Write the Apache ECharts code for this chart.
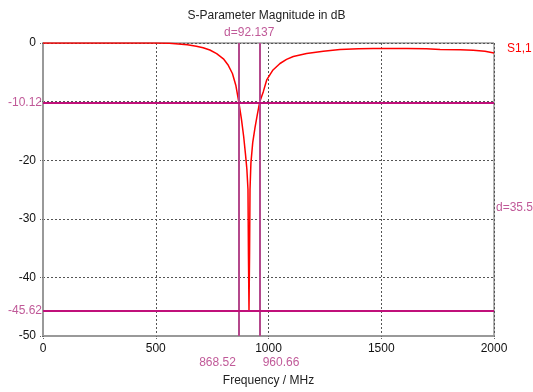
<!DOCTYPE html>
<html>
<head>
<meta charset="utf-8">
<script src="https://cdn.jsdelivr.net/npm/echarts@6/dist/echarts.min.js"></script>
<style>html,body{margin:0;padding:0;background:#fff}#c{width:533px;height:392px}</style>
</head>
<body>
<div id="c"></div>
<script>
var titleText = 'S-Parameter Magnitude in dB';
var xAxisName = 'Frequency / MHz';
var seriesName = 'S1,1';
var xTicks = [0, 500, 1000, 1500, 2000];
var yTicks = [0, -10, -20, -30, -40, -50];
var freq = [0, 100, 200, 300, 400, 500, 560, 600, 640, 680, 710, 740, 770, 800, 820, 840, 855, 868.52, 880, 890, 898, 904, 909, 911, 913.5, 916, 918, 922, 930, 940, 950, 960.66, 977, 992, 1020, 1051, 1080, 1110, 1169, 1243, 1317, 1400, 1465, 1550, 1613, 1700, 1761, 1850, 1908, 1960, 2000];
var s11 = [0, 0, 0, 0, 0, -0.02, -0.06, -0.15, -0.3, -0.55, -0.8, -1.2, -1.8, -2.7, -3.7, -5.2, -7.2, -10.12, -13, -16, -19, -21.5, -25, -36, -45.62, -36, -25, -20.5, -17, -14.5, -12.3, -10.12, -8.3, -6.3, -4.6, -3.5, -2.8, -2.3, -1.8, -1.4, -1.1, -1.0, -0.95, -0.93, -0.95, -1.0, -1.1, -1.15, -1.25, -1.4, -1.7];
var markerFreqs = [868.523, 960.66];
var markerLevels = [-10.12, -45.62];

var FONT = 'Liberation Sans';
var vColor = '#b4488c';
var hColor = '#c0107a';
var lblColor = '#b0307e';

var curve = freq.map(function (f, i) { return [f, s11[i]]; });
var xMin = xTicks[0], xMax = xTicks[xTicks.length - 1];
var yMin = yTicks[yTicks.length - 1], yMax = yTicks[0];

var dF = (markerFreqs[1] - markerFreqs[0]).toFixed(3);
var dL = Math.abs(markerLevels[1] - markerLevels[0]).toFixed(1);

var chart = echarts.init(document.getElementById('c'), null, {renderer: 'canvas'});
chart.setOption({
  animation: false,
  backgroundColor: '#fff',
  title: {
    text: titleText, left: 'center', top: 5,
    textStyle: {fontFamily: FONT, fontSize: 12, fontWeight: 'normal', color: '#222'}
  },
  grid: {left: 43, right: 39, top: 43, bottom: 54, show: true, borderColor: '#666', borderWidth: 1, backgroundColor: 'transparent'},
  xAxis: {
    type: 'value', min: xMin, max: xMax, interval: 500,
    name: xAxisName, nameLocation: 'middle', nameGap: 39,
    nameTextStyle: {fontFamily: FONT, fontSize: 12, color: '#222'},
    axisLine: {show: true, onZero: false, lineStyle: {color: '#999', width: 2}},
    axisTick: {show: true, length: 4, lineStyle: {color: '#666', type: 'dotted'}},
    axisLabel: {fontFamily: FONT, fontSize: 12, color: '#111', margin: 7,
      formatter: function (v) { return String(v); }},
    splitLine: {show: true, lineStyle: {color: '#555', type: [2, 2], width: 1}}
  },
  yAxis: {
    type: 'value', min: yMin, max: yMax, interval: 10,
    axisLine: {show: true, onZero: false, lineStyle: {color: '#999', width: 2}},
    axisTick: {show: true, length: 4, lineStyle: {color: '#666', type: 'dotted'}},
    axisLabel: {fontFamily: FONT, fontSize: 12, color: '#111', margin: 7,
      formatter: function (v) { return v === -10 ? '' : String(v); }},
    splitLine: {show: true, lineStyle: {color: '#555', type: [2, 2], width: 1}}
  },
  series: [
    {
      name: seriesName, type: 'line', data: curve, showSymbol: false, symbol: 'none',
      lineStyle: {color: '#ff0000', width: 1.5}, z: 3,
      endLabel: {show: true, formatter: seriesName, color: '#ff0000', fontFamily: FONT, fontSize: 12, distance: 13, offset: [0, -4]},
      markLine: {
        silent: true, symbol: ['none', 'none'], label: {show: false},
        data: markerFreqs.map(function (f) { return {xAxis: f, lineStyle: {color: vColor, width: 2, type: 'solid'}}; })
          .concat(markerLevels.map(function (l) { return {yAxis: l, lineStyle: {color: hColor, width: 2, type: 'solid'}}; }))
      }
    },
    {
      type: 'scatter', symbolSize: 0, clip: false, silent: true, z: 10,
      data: [
        {value: [markerFreqs[0], yMin], label: {formatter: markerFreqs[0].toFixed(2), align: 'right', offset: [-3, 27]}},
        {value: [markerFreqs[1], yMin], label: {formatter: markerFreqs[1].toFixed(2), align: 'left', offset: [3, 27]}},
        {value: [(markerFreqs[0] + markerFreqs[1]) / 2, yMax], label: {formatter: 'd=' + dF, align: 'center', offset: [0, -10]}},
        {value: [xMin, markerLevels[0]], label: {formatter: markerLevels[0].toFixed(2), align: 'right', offset: [-1, 0]}},
        {value: [xMin, markerLevels[1]], label: {formatter: markerLevels[1].toFixed(2), align: 'right', offset: [-1, 0]}},
        {value: [xMax, (markerLevels[0] + markerLevels[1]) / 2], label: {formatter: 'd=' + dL, align: 'left', offset: [2, 1]}}
      ],
      label: {show: true, position: 'inside', verticalAlign: 'middle', color: lblColor, fontFamily: FONT, fontSize: 12}
    }
  ]
});
</script>
</body>
</html>
